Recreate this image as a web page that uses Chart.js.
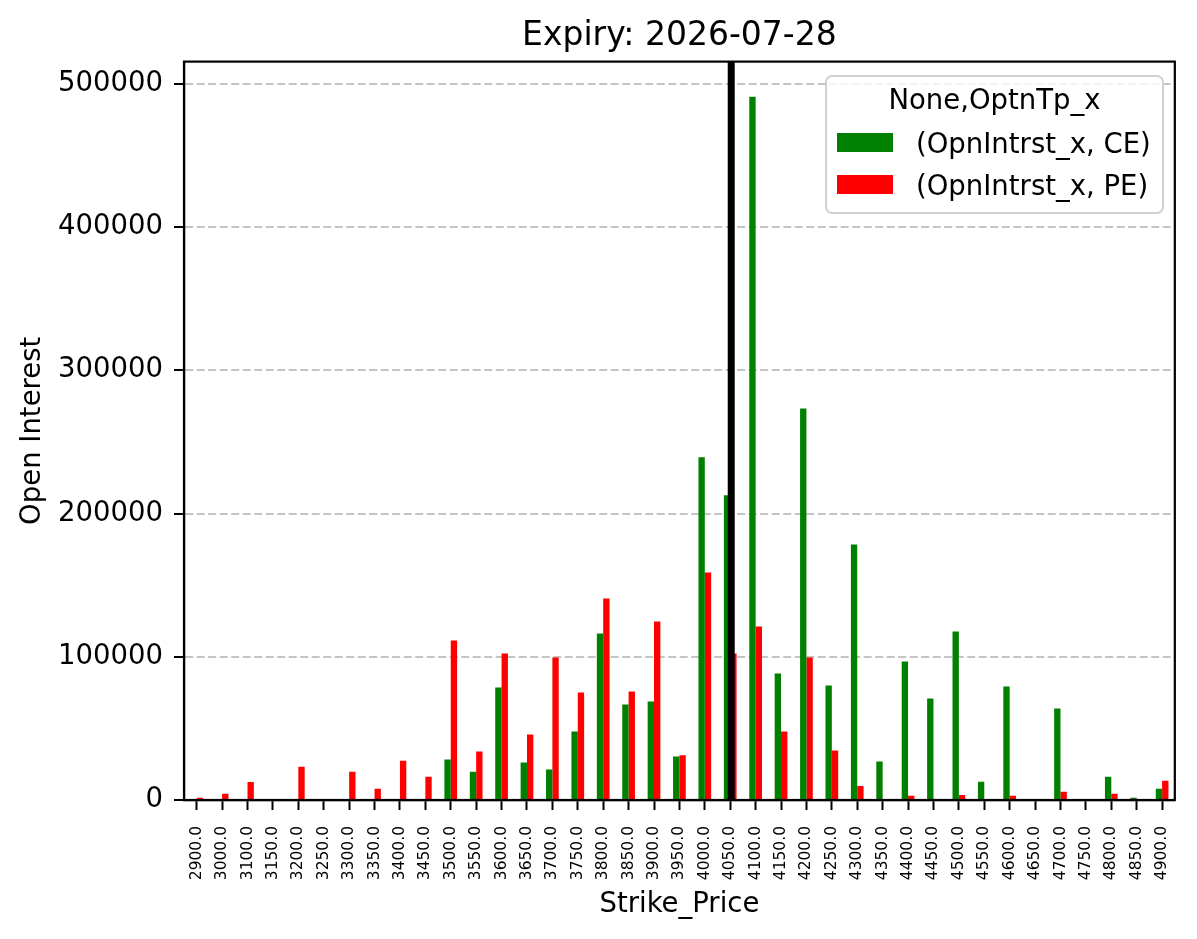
<!DOCTYPE html>
<html>
<head>
<meta charset="utf-8">
<title>Expiry: 2026-07-28</title>
<script src="https://cdn.jsdelivr.net/npm/chart.js@4.4.1/dist/chart.umd.min.js"></script>
<style>
  body { margin: 0; background: #fff; }
  canvas { display: block; }
</style>
</head>
<body>
<canvas id="oiChart" width="1197" height="939"></canvas>
<script>
const strikes = [
  '2900.0', '3000.0', '3100.0', '3150.0', '3200.0', '3250.0', '3300.0', '3350.0',
  '3400.0', '3450.0', '3500.0', '3550.0', '3600.0', '3650.0', '3700.0', '3750.0',
  '3800.0', '3850.0', '3900.0', '3950.0', '4000.0', '4050.0', '4100.0', '4150.0',
  '4200.0', '4250.0', '4300.0', '4350.0', '4400.0', '4450.0', '4500.0', '4550.0',
  '4600.0', '4650.0', '4700.0', '4750.0', '4800.0', '4850.0', '4900.0',
];
const ceOI = [
  0, 0, 0, 0, 700, 0, 0, 0,
  0, 0, 28300, 19800, 78600, 26100, 21300, 47800,
  116300, 66700, 68800, 30300, 239200, 212700, 490900, 88400,
  273400, 80000, 178400, 26800, 96700, 70900, 117700, 12800,
  79300, 0, 63900, 0, 16200, 1500, 7800,
];
const peOI = [
  1500, 4300, 12600, 0, 23200, 0, 19800, 7800,
  27400, 16200, 111400, 33800, 102300, 45700, 99500, 75100,
  140700, 75800, 124700, 31200, 158900, 102300, 121200, 47800,
  99500, 34600, 9800, 0, 2900, 0, 3500, 0,
  2900, 0, 5700, 0, 4300, 700, 13400,
];
const yTicks = [0, 100000, 200000, 300000, 400000, 500000];
const spotStrike = '4050.0';
const legendTitle = 'None,OptnTp_x';

const FONT = "'DejaVu Sans', sans-serif";

// thick black line at the spot strike
const spotLine = {
  id: 'spotLine',
  afterDatasetsDraw(chart) {
    const {ctx, chartArea, scales} = chart;
    const x = scales.x.getPixelForValue(strikes.indexOf(spotStrike)) + 1;
    ctx.save();
    ctx.strokeStyle = '#000';
    ctx.lineWidth = 7;
    ctx.beginPath();
    ctx.moveTo(x, chartArea.top);
    ctx.lineTo(x, chartArea.bottom);
    ctx.stroke();
    ctx.restore();
  }
};

// matplotlib style box frame + legend inside the axes
const frameAndLegend = {
  id: 'frameAndLegend',
  afterDraw(chart) {
    const {ctx, chartArea} = chart;
    ctx.save();
    ctx.strokeStyle = '#000';
    ctx.lineWidth = 2.2;
    ctx.strokeRect(chartArea.left, chartArea.top, chartArea.right - chartArea.left, chartArea.bottom - chartArea.top);

    // legend box
    const bx = 826, by = 76, bw = 337, bh = 137;
    ctx.beginPath();
    ctx.roundRect(bx, by, bw, bh, 6);
    ctx.fillStyle = 'rgba(255,255,255,0.8)';
    ctx.fill();
    ctx.strokeStyle = '#d0d0d0';
    ctx.lineWidth = 2;
    ctx.stroke();

    ctx.fillStyle = '#000';
    ctx.font = '27.5px ' + FONT;
    ctx.textBaseline = 'alphabetic';
    ctx.textAlign = 'center';
    ctx.fillText(legendTitle, bx + bw / 2, 109);

    ctx.textAlign = 'left';
    const rows = [153, 195];
    chart.data.datasets.forEach((ds, i) => {
      ctx.fillStyle = ds.backgroundColor;
      ctx.fillRect(837, rows[i] - 20, 56, 19);
      ctx.fillStyle = '#000';
      ctx.fillText(ds.label, 916, rows[i]);
    });
    ctx.restore();
  }
};

const data = {
  labels: strikes,
  datasets: [
    {
      label: '(OpnIntrst_x, CE)',
      data: ceOI,
      backgroundColor: '#008000',
      categoryPercentage: 0.5,
      barPercentage: 1.0,
    },
    {
      label: '(OpnIntrst_x, PE)',
      data: peOI,
      backgroundColor: '#ff0000',
      categoryPercentage: 0.5,
      barPercentage: 1.0,
    },
  ],
};

const config = {
  type: 'bar',
  data: data,
  options: {
    responsive: false,
    animation: false,
    devicePixelRatio: 1,
    layout: { padding: { left: 0, right: 21, top: 0, bottom: 0 } },
    plugins: {
      legend: { display: false },
      tooltip: { enabled: false },
      title: {
        display: true,
        text: 'Expiry: 2026-07-28',
        fullSize: false,
        color: '#000',
        font: { family: FONT, size: 33, weight: 'normal' },
        padding: { top: 17, bottom: 5 },
      },
    },
    scales: {
      x: {
        offset: true,
        afterFit: (scale) => { scale.height = 139; },
        grid: {
          offset: false,
          drawOnChartArea: false,
          drawTicks: true,
          tickLength: 10,
          tickColor: '#000',
          tickWidth: 2,
        },
        border: { display: true, color: '#000', width: 2.2 },
        ticks: {
          autoSkip: false,
          minRotation: 90,
          maxRotation: 90,
          padding: 16,
          color: '#000',
          font: { family: FONT, size: 15.5 },
        },
        title: {
          display: true,
          text: 'Strike_Price',
          color: '#000',
          font: { family: FONT, size: 27.5 },
          padding: { top: 0, bottom: 18 },
        },
      },
      y: {
        min: 0,
        max: 515500,
        afterFit: (scale) => { scale.width = 184; },
        afterBuildTicks: (scale) => { scale.ticks = yTicks.map(v => ({ value: v })); },
        grid: {
          color: '#c4c4c4',
          lineWidth: 2,
          tickLength: 10,
          tickColor: '#000',
          tickWidth: 2,
          tickBorderDash: [],
        },
        border: { display: true, color: '#000', width: 2.2, dash: [8, 3.5] },
        ticks: {
          padding: 11,
          color: '#000',
          font: { family: FONT, size: 27.5 },
          callback: (value) => String(value),
        },
        title: {
          display: true,
          text: 'Open Interest',
          color: '#000',
          font: { family: FONT, size: 27.5 },
          padding: { top: 16, bottom: 0 },
        },
      },
    },
  },
  plugins: [spotLine, frameAndLegend],
};

const myChart = new Chart(document.getElementById('oiChart').getContext('2d'), config);
</script>
</body>
</html>
